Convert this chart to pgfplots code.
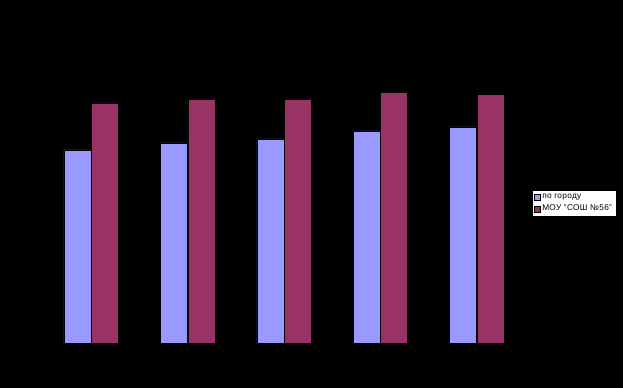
\documentclass[border=0pt]{standalone}
\usepackage{pgfplots}
\pgfplotsset{compat=1.18}
\usepackage{fontspec}
\setmainfont{Liberation Sans}[LetterSpace=4]
\definecolor{cblue}{HTML}{9999FF}
\definecolor{cpurple}{HTML}{993366}
\begin{document}
\begin{tikzpicture}
\fill[black] (0,0) rectangle (623bp,388bp);
\begin{axis}[
  at={(91.2bp,45bp)}, anchor=origin,
  scale only axis, width=482bp, height=300bp,
  xmin=-0.5, xmax=4.5, ymin=0, ymax=300,
  hide axis,
  ybar, bar width=27bp,
  legend style={at={(1.0145,0.51)}, anchor=north west, fill=white, draw=black,
    font=\fontsize{8.3}{9.5}\selectfont, inner sep=1.8pt, row sep=1.2pt,
    cells={anchor=west}},
  legend image code/.code={\draw[#1, draw=black, line width=0.3pt] (0bp,-3bp) rectangle (6bp,3bp);},
]
\addplot[fill=cblue, draw=black, line width=0.4pt, bar shift=-13.75bp] coordinates {(0,193) (1,200) (2,204) (3,212) (4,216)};
\addplot[fill=cpurple, draw=black, line width=0.4pt, bar shift=13.75bp] coordinates {(0,240) (1,244) (2,244) (3,251) (4,249)};
\legend{по городу, МОУ "СОШ №56"}
\end{axis}
\end{tikzpicture}
\end{document}
